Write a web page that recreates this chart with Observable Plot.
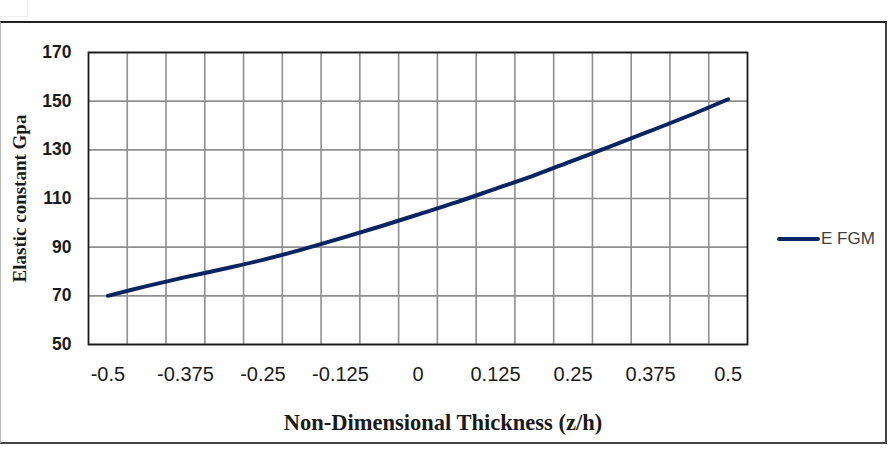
<!DOCTYPE html>
<html>
<head>
<meta charset="utf-8">
<script src="https://cdn.jsdelivr.net/npm/d3@7"></script>
<script src="https://cdn.jsdelivr.net/npm/@observablehq/plot@0.6"></script>
<style>
  html, body { margin: 0; padding: 0; background: #fff; }
  #wrap { position: relative; width: 892px; height: 450px; overflow: hidden; }
  #corner { position: absolute; left: 0; top: 0; width: 27px; height: 16px; border-right: 1px solid #eee; border-bottom: 1px solid #eee; }
  #box { position: absolute; left: 0; top: 21px; width: 884px; height: 419px;
         border-top: 2px solid #222; border-right: 2px solid #444; border-bottom: 2px solid #444; border-left: 1px solid #bbb; }
  #chart { position: absolute; left: 0; top: 0; }
  #legend { position: absolute; left: 777px; top: 229px; display: flex; align-items: center;
            font-family: "Liberation Sans", Arial, sans-serif; font-size: 17px; color: #404040; }
  #legend svg { display: block; }
</style>
</head>
<body>
<div id="wrap">
  <div id="corner"></div>
  <div id="box"></div>
  <div id="chart"></div>
  <div id="legend"></div>
</div>
<script>
// Categories: non-dimensional thickness z/h
const zValues = [-0.5, -0.4375, -0.375, -0.3125, -0.25, -0.1875, -0.125, -0.0625, 0,
                 0.0625, 0.125, 0.1875, 0.25, 0.3125, 0.375, 0.4375, 0.5];
// Series: E FGM (GPa)
const eFGM = [70, 74, 77.7, 81.1, 84.8, 89.0, 93.6, 98.4, 103.4,
              108.5, 114, 119.5, 125.6, 131.6, 137.8, 144.1, 150.8];
const seriesName = "E FGM";
// Tick labels
const xTickValues = [-0.5, -0.375, -0.25, -0.125, 0, 0.125, 0.25, 0.375, 0.5];
const yTickValues = [50, 70, 90, 110, 130, 150, 170];
const xTitle = "Non-Dimensional Thickness (z/h)";
const yTitle = "Elastic constant Gpa";

const lineColor = "#0a2462";
const data = zValues.map((z, i) => ({z, e: eFGM[i]}));
const step = zValues[1] - zValues[0];
// category boundaries (Excel-style gridlines between categories)
const boundaries = zValues.slice(1).map((z, i) => (z + zValues[i]) / 2);

const chart = Plot.plot({
  width: 892,
  height: 450,
  marginLeft: 88,
  marginRight: 145,
  marginTop: 52,
  marginBottom: 106,
  style: {fontFamily: "Liberation Sans, Arial, sans-serif", background: "transparent"},
  x: {domain: [zValues[0] - step / 2, zValues[zValues.length - 1] + step / 2]},
  y: {domain: [yTickValues[0], yTickValues[yTickValues.length - 1]]},
  marks: [
    Plot.ruleX(boundaries, {stroke: "#8f8f8f", strokeWidth: 1.6}),
    Plot.gridY(yTickValues, {stroke: "#8f8f8f", strokeWidth: 1.6, strokeOpacity: 1}),
    Plot.frame({stroke: "#1a1a1a", strokeWidth: 1.8}),
    Plot.axisX(xTickValues, {tickSize: 0, tickPadding: 22, fontSize: 20, fill: "#1a1a1a",
      tickFormat: d => String(d), label: null}),
    Plot.axisY(yTickValues, {tickSize: 0, tickPadding: 17, fontSize: 17.5, fontWeight: "bold",
      fill: "#1a1a1a", tickFormat: d => String(d), label: null}),
    Plot.text([xTitle], {frameAnchor: "bottom", text: d => d, dx: 25, dy: 85, lineAnchor: "bottom",
      fontFamily: "Liberation Serif, DejaVu Serif, serif", fontWeight: "bold",
      fontSize: 22.5, fill: "#1a1a1a"}),
    Plot.axisY([], {tickSize: 0, label: yTitle, labelAnchor: "center", labelArrow: "none",
      labelOffset: 76, fontFamily: "Liberation Serif, DejaVu Serif, serif", fontWeight: "bold",
      fontSize: 19, fill: "#1a1a1a"}),
    Plot.line(data, {x: "z", y: "e", stroke: lineColor, strokeWidth: 4,
      curve: "catmull-rom", strokeLinecap: "round"})
  ]
});
document.getElementById("chart").appendChild(chart);

// Legend
const legend = d3.select("#legend");
const ls = legend.append("svg").attr("width", 43).attr("height", 8);
ls.append("line").attr("x1", 2).attr("x2", 41).attr("y1", 4).attr("y2", 4)
  .attr("stroke", lineColor).attr("stroke-width", 4).attr("stroke-linecap", "round");
legend.append("span").text(seriesName).style("margin-left", "1px");
</script>
</body>
</html>
